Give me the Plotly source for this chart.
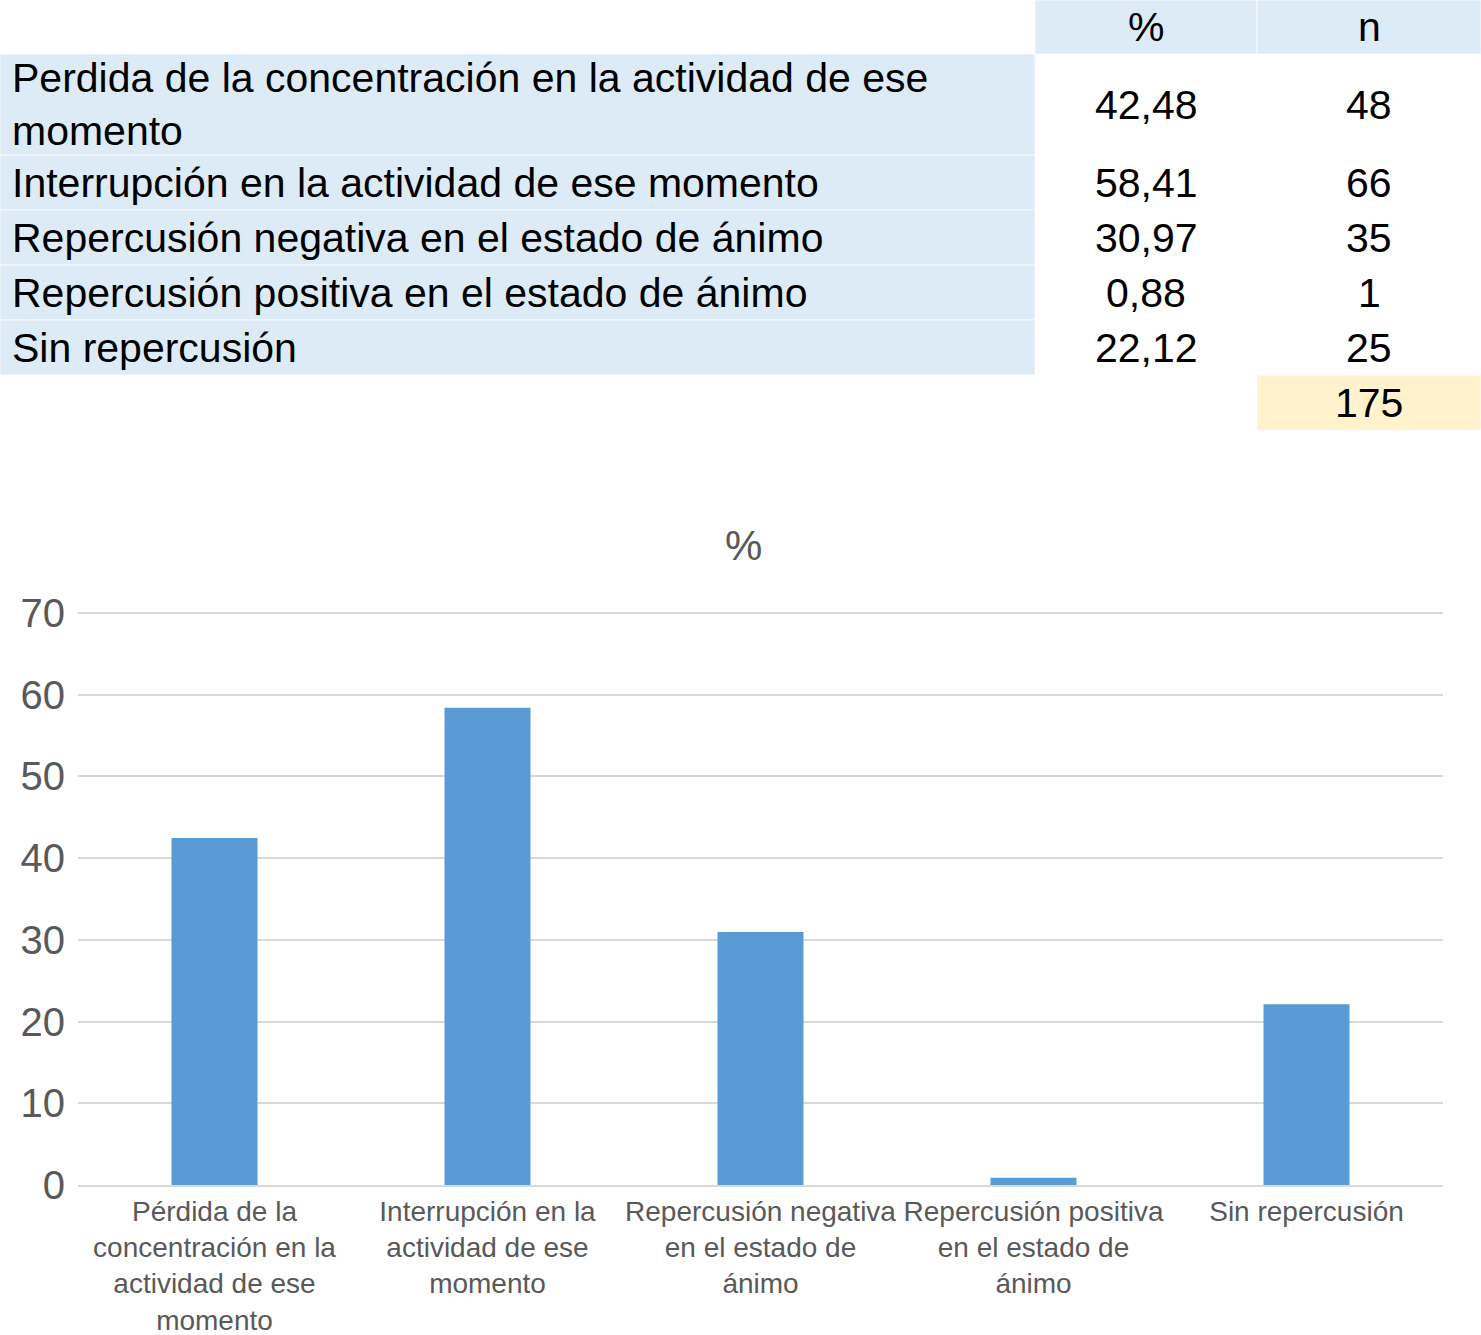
import plotly.graph_objects as go

# ---------------- data ----------------
TABLE_HEADERS = ["", "%", "n"]
TABLE_LABELS = [
    "Perdida de la concentración en la actividad de ese<br>momento",
    "Interrupción en la actividad de ese momento",
    "Repercusión negativa en el estado de ánimo",
    "Repercusión positiva en el estado de ánimo",
    "Sin repercusión",
]
PCT = [42.48, 58.41, 30.97, 0.88, 22.12]
N = [48, 66, 35, 1, 25]
TOTAL_N = 175

BAR_LABELS = [
    "Pérdida de la<br>concentración en la<br>actividad de ese<br>momento",
    "Interrupción en la<br>actividad de ese<br>momento",
    "Repercusión negativa<br>en el estado de<br>ánimo",
    "Repercusión positiva<br>en el estado de<br>ánimo",
    "Sin repercusión",
]
Y_TICKS = [0, 10, 20, 30, 40, 50, 60, 70]
CHART_TITLE = "%"

# ---------------- style ----------------
W, H = 1481, 1335
FONT = "Liberation Sans, Arial, Helvetica, sans-serif"
BLUE_FILL = "#ddebf7"
YELLOW_FILL = "#fff2cc"
BAR_COLOR = "#5b9bd5"
GRID = "#d9d9d9"
GRAY_TXT = "#595959"
TABLE_FONT = 41

# table geometry (in pixel-like units on hidden axes x2/y2)
COL_EDGES = [0, 1035, 1257, 1481]
HEADER_H = 54
ROW_H = 55
EXTRA_LINE_H = 46
TABLE_BOTTOM = 430
LABEL_INSET = 10

# chart geometry (pixels)
PLOT_LEFT, PLOT_RIGHT = 78, 1443
ZERO_PX, SEVENTY_PX = 1185, 613
Y_MAX = 71
px_per_unit = (ZERO_PX - SEVENTY_PX) / 70
top_px = ZERO_PX - Y_MAX * px_per_unit


def fmt_pct(v):
    return f"{v:.2f}".replace(".", ",")


fig = go.Figure()

# ---------------- bar chart ----------------
fig.add_trace(go.Bar(
    x=BAR_LABELS, y=PCT, marker=dict(color=BAR_COLOR, line=dict(width=0)),
    xaxis="x", yaxis="y", showlegend=False, hoverinfo="x+y",
))

# ---------------- table (shapes + annotations on x2/y2) ----------------
row_edges = [0, HEADER_H]
for lab in TABLE_LABELS:
    lines = lab.count("<br>") + 1
    row_edges.append(row_edges[-1] + ROW_H + (lines - 1) * EXTRA_LINE_H)
row_edges.append(row_edges[-1] + ROW_H)  # total row

shapes = []
annotations = []


def cell(ci, ri, fill):
    shapes.append(dict(
        type="rect", xref="x2", yref="y2",
        x0=COL_EDGES[ci], x1=COL_EDGES[ci + 1],
        y0=row_edges[ri], y1=row_edges[ri + 1],
        fillcolor=fill, line=dict(color="rgba(255,255,255,0.7)", width=1),
        layer="below",
    ))


def text(ci, ri, txt, align="center"):
    if align == "left":
        x = COL_EDGES[ci] + LABEL_INSET
        xanchor = "left"
    else:
        x = (COL_EDGES[ci] + COL_EDGES[ci + 1]) / 2
        xanchor = "center"
    annotations.append(dict(
        xref="x2", yref="y2", x=x, y=(row_edges[ri] + row_edges[ri + 1]) / 2,
        text=txt, showarrow=False, xanchor=xanchor, yanchor="middle",
        align="left" if align == "left" else "center",
        font=dict(family=FONT, size=TABLE_FONT, color="#000000"),
    ))


for ci, h in enumerate(TABLE_HEADERS):
    if h:
        cell(ci, 0, BLUE_FILL)
        text(ci, 0, h)

for i, lab in enumerate(TABLE_LABELS):
    ri = i + 1
    cell(0, ri, BLUE_FILL)
    text(0, ri, lab, align="left")
    text(1, ri, fmt_pct(PCT[i]))
    text(2, ri, str(N[i]))

ri_tot = len(TABLE_LABELS) + 1
cell(2, ri_tot, YELLOW_FILL)
text(2, ri_tot, str(TOTAL_N))

annotations.append(dict(
    xref="paper", yref="paper", x=743 / W, y=1 - 545 / H,
    text=CHART_TITLE, showarrow=False, xanchor="center", yanchor="middle",
    font=dict(family=FONT, size=42, color=GRAY_TXT),
))

fig.update_layout(
    template="none",
    width=W, height=H, autosize=False,
    margin=dict(l=0, r=0, t=0, b=0, pad=0),
    paper_bgcolor="white", plot_bgcolor="white",
    font=dict(family=FONT, color=GRAY_TXT),
    bargap=0.685,
    showlegend=False,
    shapes=shapes,
    annotations=annotations,
    xaxis=dict(
        domain=[PLOT_LEFT / W, PLOT_RIGHT / W], anchor="y",
        automargin=False,
        showline=True, linecolor=GRID, linewidth=2,
        showgrid=False, zeroline=False, ticks="", tickangle=0,
        tickfont=dict(family=FONT, size=28, color=GRAY_TXT),
    ),
    yaxis=dict(
        domain=[1 - ZERO_PX / H, 1 - top_px / H], anchor="x",
        automargin=False,
        range=[0, Y_MAX], tickvals=Y_TICKS,
        showgrid=True, gridcolor=GRID, gridwidth=2,
        zeroline=False, showline=False, ticks="",
        ticklabelstandoff=12,
        tickfont=dict(family=FONT, size=40, color=GRAY_TXT),
    ),
    xaxis2=dict(
        domain=[0, 1], anchor="y2", range=[0, W],
        visible=False, fixedrange=True, automargin=False,
    ),
    yaxis2=dict(
        domain=[1 - TABLE_BOTTOM / H, 1], anchor="x2",
        range=[TABLE_BOTTOM, 0],
        visible=False, fixedrange=True, automargin=False,
    ),
)

post = (
    "document.documentElement.style.margin='0';"
    "document.body.style.margin='0';"
    "document.body.style.overflow='hidden';"
    "var gd=document.getElementById('{plot_id}');"
    "gd.style.position='fixed';gd.style.left='0px';gd.style.top='0px';"
)

fig.write_html("out.html", post_script=post, config={"displayModeBar": False})
